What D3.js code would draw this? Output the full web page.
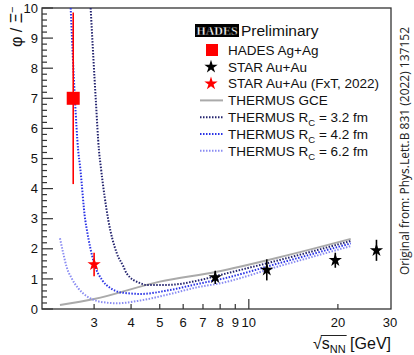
<!DOCTYPE html>
<html>
<head>
<meta charset="utf-8">
<script src="https://cdn.jsdelivr.net/npm/d3@7"></script>
<style>
  body { margin: 0; background: #fff; }
  svg { display: block; font-family: "Liberation Sans", Arial, sans-serif; }
</style>
</head>
<body>
<div id="chart"></div>
<script>
// data
const xTicks = [3, 4, 5, 6, 7, 8, 9, 10, 20, 30];
const yTicks = [0, 1, 2, 3, 4, 5, 6, 7, 8, 9, 10];

const hadesX = [2.55], hadesY = [7.0], hadesErr = [2.85];
const fxtX = [3.0], fxtY = [1.48], fxtErr = [0.39];
const starX = [7.7, 11.5, 19.6, 27], starY = [1.05, 1.30, 1.62, 1.95], starErr = [0.22, 0.35, 0.25, 0.35];

const gceX = [2.3, 3.0, 5.0, 7.8, 12.7, 22.1];
const gceY = [0.13, 0.33, 0.91, 1.24, 1.72, 2.33];

const rc32X = [2.92, 3.04, 3.115, 3.16, 3.35, 3.58, 3.77, 3.86, 4.29, 4.51, 4.74, 5.27, 6.84, 7.78, 12.74, 22.1];
const rc32Y = [10.0, 6.94, 5.28, 4.73, 2.96, 1.85, 1.41, 1.19, 0.86, 0.80, 0.80, 0.80, 0.96, 1.10, 1.63, 2.26];

const rc42X = [2.50, 2.585, 2.65, 2.69, 2.80, 2.83, 3.0, 3.2, 3.4, 3.7, 4.3, 5.41, 6.84, 7.78, 12.74, 22.1];
const rc42Y = [10.0, 6.94, 5.28, 4.73, 2.96, 2.68, 1.52, 0.95, 0.70, 0.55, 0.50, 0.63, 0.85, 0.96, 1.53, 2.18];

const rc62X = [2.30, 2.36, 2.42, 2.52, 2.65, 2.83, 3.06, 3.31, 3.57, 4.29, 5.27, 6.84, 7.78, 12.74, 22.1];
const rc62Y = [2.35, 1.85, 1.41, 1.02, 0.69, 0.43, 0.27, 0.21, 0.19, 0.28, 0.47, 0.74, 0.83, 1.43, 2.09];

const W = 414, H = 355;
const svg = d3.select("#chart").append("svg").attr("width", W).attr("height", H);

const x = d3.scaleLog().domain([2, 30]).range([42, 390]);
const y = d3.scaleLinear().domain([0, 10]).range([309, 8]);

svg.append("clipPath").attr("id", "plot")
  .append("rect").attr("x", 42).attr("y", 8).attr("width", 348).attr("height", 301);

// frame
svg.append("rect")
  .attr("x", 42).attr("y", 8).attr("width", 349).attr("height", 301)
  .attr("fill", "none").attr("stroke", "#333").attr("stroke-width", 1.3);

// y axis ticks, inside
const yMinor = d3.range(0, 10.001, 0.2);
svg.append("g").selectAll("line").data(yMinor).join("line")
  .attr("x1", 42).attr("x2", d => Math.abs(d - Math.round(d)) < 1e-6 ? 53 : 47)
  .attr("y1", d => y(d)).attr("y2", d => y(d))
  .attr("stroke", "#333").attr("stroke-width", 1.2);
svg.append("g").selectAll("text").data(yTicks).join("text")
  .attr("x", 38).attr("y", d => y(d)).attr("dy", "0.36em")
  .attr("text-anchor", "end").attr("font-size", 13).attr("fill", "#111")
  .text(d => d);

// x axis ticks, inside
svg.append("g").selectAll("line").data(xTicks.filter(d => d < 30)).join("line")
  .attr("x1", d => x(d)).attr("x2", d => x(d))
  .attr("y1", 309).attr("y2", d => d === 10 ? 299 : 304)
  .attr("stroke", "#333").attr("stroke-width", 1.2);
svg.append("g").selectAll("text").data(xTicks).join("text")
  .attr("x", d => x(d)).attr("y", 327)
  .attr("text-anchor", "middle").attr("font-size", 13).attr("fill", "#111")
  .text(d => d);

// x title
const xt = svg.append("text").attr("x", 391).attr("y", 349)
  .attr("text-anchor", "end").attr("font-size", 16).attr("fill", "#111");
xt.append("tspan").text("√");
xt.append("tspan").text("s");
xt.append("tspan").attr("font-size", 11).attr("dy", 4).text("NN");
xt.append("tspan").attr("dy", -4).text(" [GeV]");
{
  const n = xt.node();
  const a = n.getStartPositionOfChar(1).x, b = n.getEndPositionOfChar(3).x;
  svg.append("line").attr("x1", a - 1).attr("x2", b + 1).attr("y1", 335.5).attr("y2", 335.5)
    .attr("stroke", "#222").attr("stroke-width", 1);
}

// y title
const yt = svg.append("text").attr("transform", "translate(22,47) rotate(-90)")
  .attr("font-size", 16).attr("fill", "#111");
yt.append("tspan").text("φ / Ξ");
yt.append("tspan").attr("font-size", 11).attr("dy", -6).text("−");

// source note
svg.append("text").attr("transform", "translate(409,151) rotate(-90)")
  .attr("text-anchor", "middle").attr("font-size", 12)
  .attr("font-family", "'Open Sans', sans-serif").attr("fill", "#222")
  .text("Original from: Phys.Lett.B 831 (2022) 137152");

// curves
const plot = svg.append("g").attr("clip-path", "url(#plot)");
const line = d3.line().x(d => x(d[0])).y(d => y(d[1])).curve(d3.curveMonotoneX);
const zip = (a, b) => a.map((v, i) => [v, b[i]]);

plot.append("path").datum(zip(gceX, gceY)).attr("d", line)
  .attr("fill", "none").attr("stroke", "#aaa").attr("stroke-width", 2);

const curves = [
  { xs: rc62X, ys: rc62Y, color: "#8a8cf2" },
  { xs: rc42X, ys: rc42Y, color: "#2a33e6" },
  { xs: rc32X, ys: rc32Y, color: "#23236e" }
];
curves.forEach(c => {
  plot.append("path").datum(zip(c.xs, c.ys)).attr("d", line)
    .attr("fill", "none").attr("stroke", c.color).attr("stroke-width", 2)
    .attr("stroke-dasharray", "1.5,1.5");
});

// error bars + markers
function errBars(xs, ys, es, color) {
  svg.append("g").selectAll("line").data(xs).join("line")
    .attr("x1", d => x(d)).attr("x2", d => x(d))
    .attr("y1", (d, i) => y(ys[i] + es[i])).attr("y2", (d, i) => y(ys[i] - es[i]))
    .attr("stroke", color).attr("stroke-width", 1.6);
}
errBars(hadesX, hadesY, hadesErr, "#f00");
errBars(fxtX, fxtY, fxtErr, "#f00");
errBars(starX, starY, starErr, "#000");

svg.append("g").selectAll("rect").data(hadesX).join("rect")
  .attr("x", d => x(d) - 6.5).attr("y", (d, i) => y(hadesY[i]) - 6.5)
  .attr("width", 13).attr("height", 13).attr("fill", "#f00");

const star = d3.symbol(d3.symbolStar, 55);
svg.append("g").selectAll("path").data(fxtX).join("path")
  .attr("transform", (d, i) => `translate(${x(d)},${y(fxtY[i])})`)
  .attr("d", star).attr("fill", "#f00");
svg.append("g").selectAll("path").data(starX).join("path")
  .attr("transform", (d, i) => `translate(${x(d)},${y(starY[i])})`)
  .attr("d", star).attr("fill", "#000");

// legend
const lg = svg.append("g");
lg.append("rect").attr("x", 195).attr("y", 24).attr("width", 44).attr("height", 13).attr("fill", "#000");
lg.append("text").attr("x", 217).attr("y", 35).attr("text-anchor", "middle")
  .attr("font-family", "'Liberation Serif', serif").attr("font-weight", "bold")
  .attr("font-size", 13).attr("fill", "#fff").attr("stroke", "#000").attr("stroke-width", 0.4)
  .attr("textLength", 41).attr("lengthAdjust", "spacingAndGlyphs").text("HADES");
lg.append("text").attr("x", 241).attr("y", 36).attr("font-size", 15.5).attr("fill", "#111").text("Preliminary");

const items = [
  { label: "HADES Ag+Ag", kind: "square", color: "#f00" },
  { label: "STAR Au+Au", kind: "star", color: "#000" },
  { label: "STAR Au+Au (FxT, 2022)", kind: "star", color: "#f00" },
  { label: "THERMUS GCE", kind: "solid", color: "#aaa" },
  { label: "THERMUS R", sub: "C", rest: " = 3.2 fm", kind: "dot", color: "#23236e" },
  { label: "THERMUS R", sub: "C", rest: " = 4.2 fm", kind: "dot", color: "#2a33e6" },
  { label: "THERMUS R", sub: "C", rest: " = 6.2 fm", kind: "dot", color: "#8a8cf2" }
];
items.forEach((it, i) => {
  const cy = 50 + i * 16.8;
  const g = lg.append("g");
  if (it.kind === "square") {
    g.append("rect").attr("x", 206).attr("y", cy - 6).attr("width", 12).attr("height", 12).attr("fill", it.color);
  } else if (it.kind === "star") {
    g.append("path").attr("transform", `translate(211,${cy})`).attr("d", star).attr("fill", it.color);
  } else {
    g.append("line").attr("x1", 200).attr("x2", 223).attr("y1", cy).attr("y2", cy)
      .attr("stroke", it.color).attr("stroke-width", 2)
      .attr("stroke-dasharray", it.kind === "dot" ? "1.5,1.5" : null);
  }
  const t = g.append("text").attr("x", 228).attr("y", cy).attr("dy", "0.36em")
    .attr("font-size", 13.5).attr("fill", "#111");
  t.append("tspan").text(it.label);
  if (it.sub) {
    t.append("tspan").attr("font-size", 9.5).attr("dy", 4).text(it.sub);
    t.append("tspan").attr("dy", -4).text(it.rest);
  }
});
</script>
</body>
</html>
